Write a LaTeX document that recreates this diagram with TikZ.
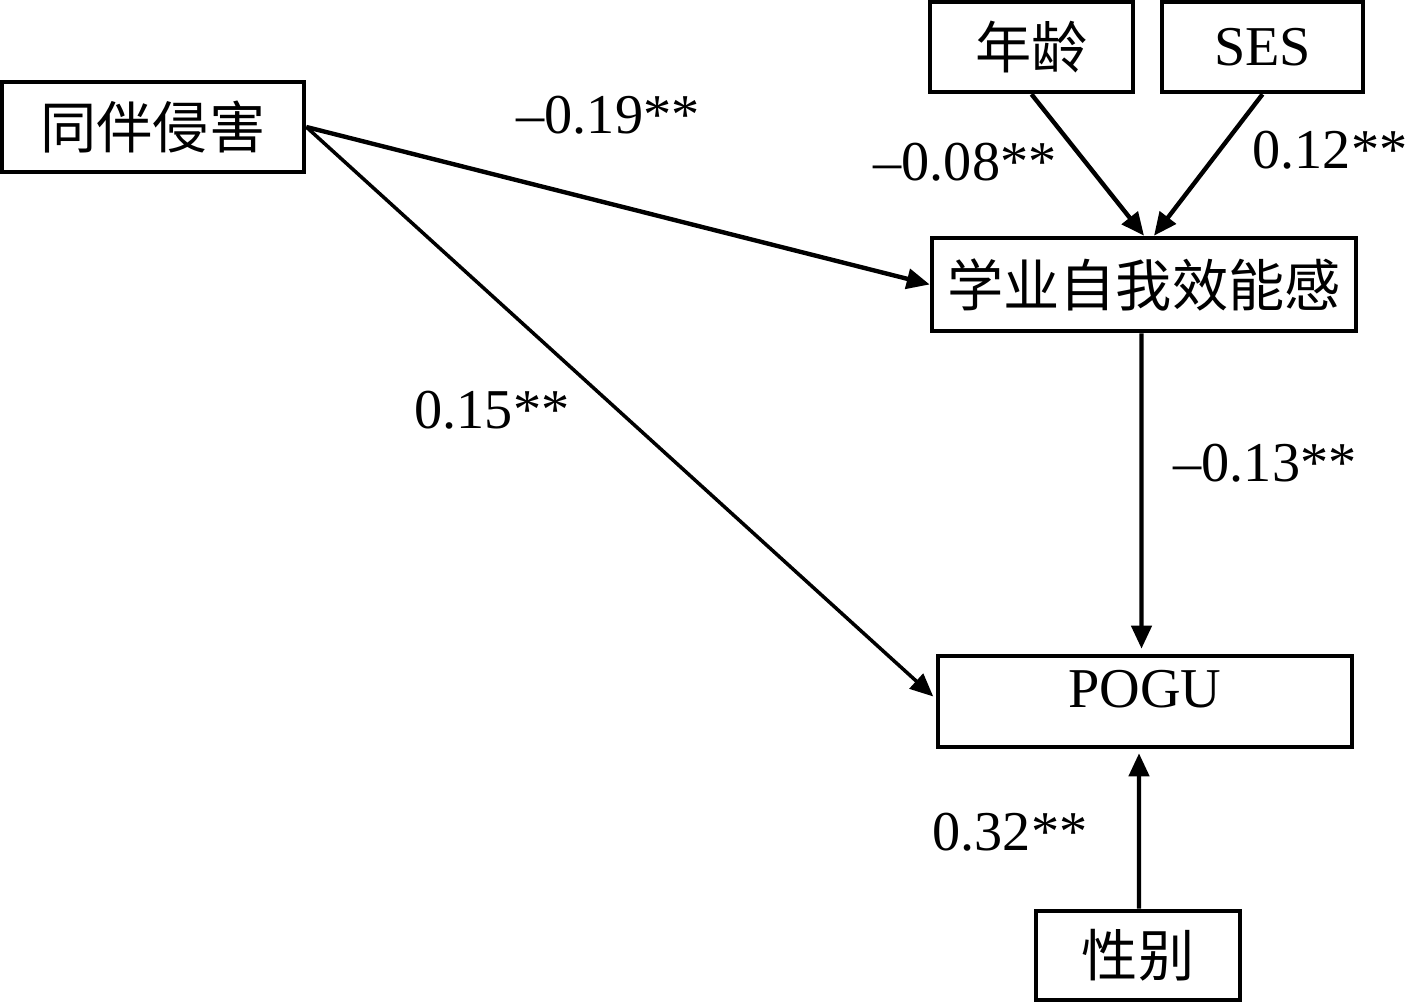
\documentclass[tikz,border=0pt]{standalone}
\usepackage{fontspec}
\setmainfont{Liberation Serif}
\newfontfamily\cjk{Noto Sans CJK SC}
\usetikzlibrary{arrows.meta,positioning,calc}
\tikzset{var box/.style=
	{draw,
		line width=2.6pt,
		inner sep=0pt,
		font=\fontsize{32}{38}\selectfont},
	path arrow/.style={-{Triangle[length=0.46cm,width=0.4cm]},line width=2.5pt},
	coef/.style={font=\fontsize{32}{38}\selectfont},
}

\begin{document}
\begin{tikzpicture}[line cap=butt,line join=miter]
			\useasboundingbox (0,0) rectangle (28.18,20.1);
			
			\node[var box, minimum width=6.04cm, minimum height=1.8cm] (peer) at (3.06,17.56) {\cjk 同伴侵害};
			\node[var box, minimum width=4.06cm, minimum height=1.8cm] (age) at (20.63,19.16) {\cjk 年龄};
			\node[var box, minimum width=4.02cm, minimum height=1.8cm] (ses) at (25.25,19.16) {SES};
			\node[var box, minimum width=8.48cm, minimum height=1.86cm] (ase) at (22.88,14.41) {\cjk 学业自我效能感};
			\node[var box, minimum width=8.28cm, minimum height=1.82cm, text depth=0.5cm] (pogu) at (22.9,6.07) {POGU};
			\node[var box, minimum width=4.08cm, minimum height=1.78cm] (gender) at (22.76,0.99) {\cjk 性别};
			
			\draw[path arrow] (peer.east) -- (ase.west);
			\draw[path arrow, line width=2pt] (peer.east) -- ($(pogu.west)+(-0.05,0.1)$);
			\draw[path arrow] (age.south) -- (ase.north);
			\draw[path arrow] (ses.south) -- ($(ase.north)+(0.2,0)$);
			\draw[path arrow, shorten >=0.1cm] ($(ase.south)+(-0.05,0)$) -- ($(pogu.north)+(-0.07,0)$);
			\draw[path arrow, shorten >=0.08cm] ($(gender.north)+(0.02,0)$) -- ($(pogu.south)+(-0.12,0)$);
			
			\node[coef] (c1) at (12.16,17.8) {–0.19**};
			\node[coef] (c2) at (9.84,11.9) {0.15**};
			\node[coef] (c3) at (19.3,16.86) {–0.08**};
			\node[coef] (c4) at (26.6,17.1) {0.12**};
			\node[coef] (c5) at (25.3,10.84) {–0.13**};
			\node[coef] (c6) at (20.2,3.46) {0.32**};
		\end{tikzpicture}
\end{document}
